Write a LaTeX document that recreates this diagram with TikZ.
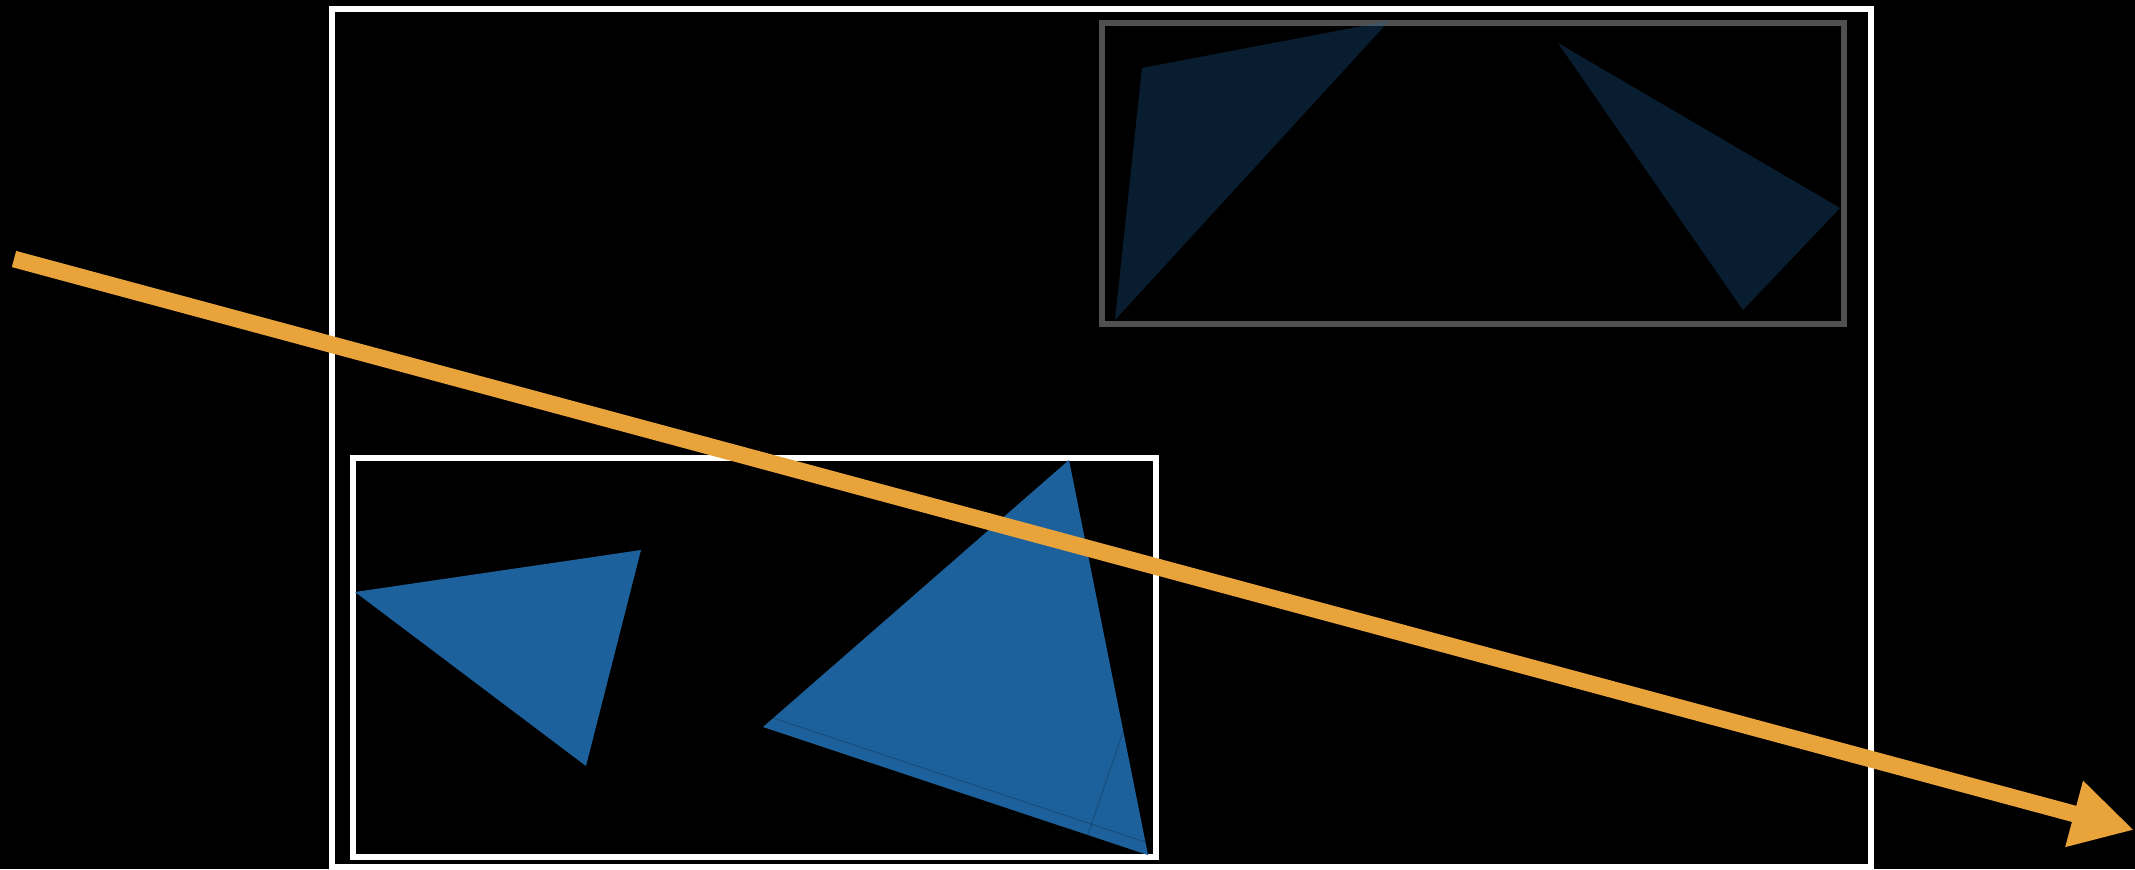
\documentclass[tikz,border=0pt]{standalone}
\usetikzlibrary{arrows.meta}

\definecolor{raycol}{RGB}{232,164,58}
\definecolor{tricol}{RGB}{29,97,156}
\definecolor{boxgray}{RGB}{80,80,80}

\begin{document}
\begin{tikzpicture}[x=0.01cm,y=-0.01cm,line join=miter,
    box/.style={draw=white,line width=1.45pt},
    hit/.style={fill=tricol},
    miss/.style={fill=tricol,fill opacity=0.3},
    seam/.style={draw=black,draw opacity=0.2,line width=0.3pt},
    ray/.style={draw=raycol,line width=4.75pt,-{Triangle[length=0.62cm,width=0.64cm]}}]
  \fill[black] (0,0) rectangle (2135,869);
  \useasboundingbox (0,0) rectangle (2135,869);
  % bounding volumes
  \draw[box] (332,9) rectangle (1871,867);
  \draw[box] (353,458) rectangle (1156,857);
  \draw[draw=boxgray,line width=1.45pt] (1102,23) rectangle (1844,324);
  % triangles that the ray can hit
  \fill[hit] (355,592)--(641,550)--(586,766)--cycle;
  \fill[hit] (1069,460)--(763,727)--(1148,855)--cycle;
  \draw[seam] (773,718)--(1145,842);
  \draw[seam] (1123,732)--(1087,837);
  % triangles in the missed box
  \fill[miss] (1142,68)--(1389,21)--(1115,320)--cycle;
  \fill[miss] (1558,43)--(1840,208)--(1743,310)--cycle;
  % ray
  \coordinate (raystart) at (14,259);
  \coordinate (rayend) at (2134,830);
  \draw[ray] (raystart)--(rayend);
\end{tikzpicture}
\end{document}
